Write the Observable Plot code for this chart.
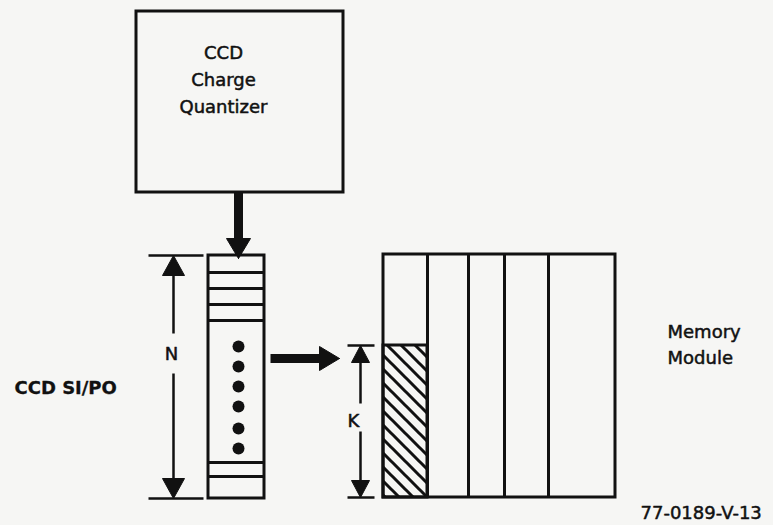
<!DOCTYPE html>
<html>
<head>
<meta charset="utf-8">
<script src="https://cdn.jsdelivr.net/npm/d3@7"></script>
<script src="https://cdn.jsdelivr.net/npm/@observablehq/plot@0.6"></script>
<style>
  html, body { margin: 0; padding: 0; background: #f6f6f4; }
</style>
</head>
<body>
<div id="chart"></div>
<script>
// ---- Diagram data (pixel-space values) ----
const boxes = [
  { name: "quantizer", x1: 136, x2: 343, y1: 11, y2: 192 },
  { name: "register",  x1: 208, x2: 264, y1: 255, y2: 498 },
  { name: "memory",    x1: 383, x2: 615, y1: 254, y2: 497 }
];
const registerDividers = [272, 288, 304, 320, 462, 476];
const memoryColumns = [427, 468, 504, 548];
const hatched = [{ x1: 383, x2: 427, y1: 345, y2: 497 }];
const registerDots = [346, 366, 386, 406, 428, 448];
const shafts = [
  { x1: 238, y1: 192, x2: 238, y2: 242 },
  { x1: 270, y1: 358, x2: 322, y2: 358 }
];
const dimLines = [
  // N dimension
  { x1: 148, y1: 255, x2: 203, y2: 255 },
  { x1: 148, y1: 498, x2: 203, y2: 498 },
  { x1: 173, y1: 270, x2: 173, y2: 333 },
  { x1: 173, y1: 373, x2: 173, y2: 482 },
  // K dimension
  { x1: 347, y1: 345, x2: 374, y2: 345 },
  { x1: 347, y1: 497, x2: 374, y2: 497 },
  { x1: 360, y1: 358, x2: 360, y2: 403 },
  { x1: 360, y1: 431, x2: 360, y2: 484 }
];
const arrowHeads = [
  { id: "q", x: 238, y: 258, dir: "down", len: 20, half: 12 },
  { id: "r", x: 339, y: 358, dir: "right", len: 20, half: 12 },
  { id: "nTop", x: 173, y: 255, dir: "up", len: 20, half: 11 },
  { id: "nBot", x: 173, y: 498, dir: "down", len: 20, half: 11 },
  { id: "kTop", x: 360, y: 345, dir: "up", len: 17, half: 9 },
  { id: "kBot", x: 360, y: 497, dir: "down", len: 17, half: 9 }
];
const centerLabels = [
  { text: "CCD", x: 223, y: 53 },
  { text: "Charge", x: 223, y: 80 },
  { text: "Quantizer", x: 223, y: 107 },
  { text: "N", x: 171, y: 354 },
  { text: "K", x: 353, y: 421 }
];
const leftLabels = [
  { text: "Memory", x: 667, y: 332 },
  { text: "Module", x: 667, y: 358 },
  { text: "77-0189-V-13", x: 640, y: 513 }
];
const boldLabels = [
  { text: "CCD SI/PO", x: 14, y: 388 }
];

// triangle vertices built from the arrowhead table
const triVerts = arrowHeads.flatMap(a => {
  const {x, y, len, half, id} = a;
  if (a.dir === "down") return [{id, x, y}, {id, x: x - half, y: y - len}, {id, x: x + half, y: y - len}, {id, x, y}];
  if (a.dir === "up") return [{id, x, y}, {id, x: x - half, y: y + len}, {id, x: x + half, y: y + len}, {id, x, y}];
  return [{id, x, y}, {id, x: x - len, y: y - half}, {id, x: x - len, y: y + half}, {id, x, y}];
});

const regBox = boxes[1], memBox = boxes[2];
const regLines = registerDividers.map(y => ({ x1: regBox.x1, x2: regBox.x2, y }));
const memLines = memoryColumns.map(x => ({ x, y1: memBox.y1, y2: memBox.y2 }));

const W = 773, H = 525;
const font = "'DejaVu Sans', 'Liberation Sans', sans-serif";
const ink = "#111";
const textStyle = { x: "x", y: "y", text: "text", fill: ink, stroke: ink, strokeWidth: 0.5, fontFamily: font, fontSize: 18, letterSpacing: 0.9 };

const svg = Plot.plot({
  width: W,
  height: H,
  margin: 0,
  x: { domain: [0, W], range: [0, W], axis: null },
  y: { domain: [0, H], range: [0, H], axis: null },
  style: { background: "#f6f6f4", fontFamily: font },
  marks: [
    Plot.rect(hatched, { x1: "x1", x2: "x2", y1: "y1", y2: "y2", fill: "url(#hatch)" }),
    Plot.rect(boxes, { x1: "x1", x2: "x2", y1: "y1", y2: "y2", fill: "none", stroke: ink, strokeWidth: 3 }),
    Plot.rect(hatched, { x1: "x1", x2: "x2", y1: "y1", y2: "y2", fill: "none", stroke: ink, strokeWidth: 3 }),
    Plot.link(regLines, { x1: "x1", x2: "x2", y1: "y", y2: "y", stroke: ink, strokeWidth: 3 }),
    Plot.link(memLines, { x1: "x", x2: "x", y1: "y1", y2: "y2", stroke: ink, strokeWidth: 3 }),
    Plot.link(shafts, { x1: "x1", y1: "y1", x2: "x2", y2: "y2", stroke: ink, strokeWidth: 9, strokeLinecap: "butt" }),
    Plot.link(dimLines, { x1: "x1", y1: "y1", x2: "x2", y2: "y2", stroke: ink, strokeWidth: 2.5 }),
    Plot.line(triVerts, { x: "x", y: "y", z: "id", fill: ink, stroke: ink, strokeWidth: 1 }),
    Plot.dot(registerDots, { x: () => 238, y: d => d, r: 6, fill: ink, stroke: "none" }),
    Plot.text(centerLabels, { ...textStyle, textAnchor: "middle" }),
    Plot.text(leftLabels, { ...textStyle, textAnchor: "start" }),
    Plot.text(boldLabels, { ...textStyle, textAnchor: "start", fontWeight: "bold", strokeWidth: 0.3, letterSpacing: 0.3 })
  ]
});

// hatch pattern definition for the filled K portion
const ns = "http://www.w3.org/2000/svg";
const defs = document.createElementNS(ns, "defs");
const pat = document.createElementNS(ns, "pattern");
pat.setAttribute("id", "hatch");
pat.setAttribute("patternUnits", "userSpaceOnUse");
pat.setAttribute("width", "14");
pat.setAttribute("height", "14");
const p = document.createElementNS(ns, "path");
p.setAttribute("d", "M0,0 L14,14 M-7,7 L7,21 M7,-7 L21,7");
p.setAttribute("stroke", ink);
p.setAttribute("stroke-width", "3");
pat.appendChild(p);
defs.appendChild(pat);
svg.insertBefore(defs, svg.firstChild);

document.getElementById("chart").appendChild(svg);
</script>
</body>
</html>
